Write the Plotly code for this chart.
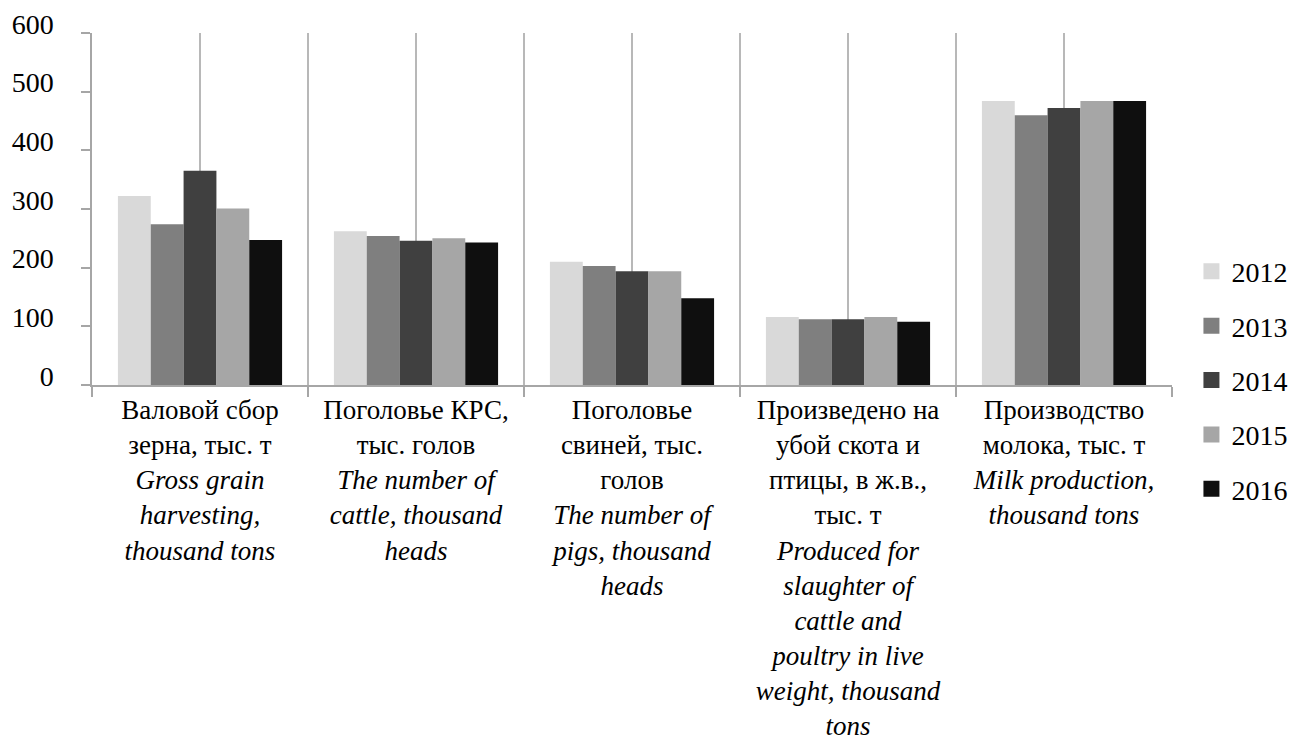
import plotly.graph_objects as go

categories_ru = [
    "Валовой сбор<br>зерна, тыс. т",
    "Поголовье КРС,<br>тыс. голов",
    "Поголовье<br>свиней, тыс.<br>голов",
    "Произведено на<br>убой скота и<br>птицы, в ж.в.,<br>тыс. т",
    "Производство<br>молока, тыс. т",
]
categories_en = [
    ["Gross grain", "harvesting,", "thousand tons"],
    ["The number of", "cattle, thousand", "heads"],
    ["The number of", "pigs, thousand", "heads"],
    ["Produced for", "slaughter of", "cattle and", "poultry in live", "weight, thousand", "tons"],
    ["Milk production,", "thousand tons"],
]
category_keys = ["grain", "cattle", "pigs", "slaughter", "milk"]

years = ["2012", "2013", "2014", "2015", "2016"]
v2012 = [322, 262, 210, 116, 484]
v2013 = [274, 254, 203, 112, 460]
v2014 = [365, 246, 194, 112, 472]
v2015 = [301, 250, 194, 116, 484]
v2016 = [247, 243, 148, 108, 484]
values = [v2012, v2013, v2014, v2015, v2016]
colors = ["#d9d9d9", "#7f7f7f", "#404040", "#a6a6a6", "#0f0f0f"]

ticktext = [
    ru + "<br>" + "<br>".join("<i>" + s + "</i>" for s in en)
    for ru, en in zip(categories_ru, categories_en)
]

FONT = "Liberation Serif"

fig = go.Figure()
for yr, vals, col in zip(years, values, colors):
    fig.add_trace(go.Bar(
        x=category_keys, y=vals, name=yr, marker_color=col,
        marker_line_width=0, showlegend=False,
    ))
for yr, col in zip(years, colors):
    fig.add_trace(go.Scatter(
        x=[None], y=[None], mode="markers", name=yr, legendgroup=yr,
        marker=dict(symbol="square", size=17, color=col), showlegend=True,
    ))
fig.add_trace(go.Scatter(x=[None], y=[None], xaxis="x2", yaxis="y",
                         showlegend=False, hoverinfo="skip"))

fig.update_layout(
    width=1299, height=747,
    margin=dict(l=84, r=135, t=25, b=370, autoexpand=False),
    paper_bgcolor="white", plot_bgcolor="white",
    font=dict(family=FONT, color="black"),
    barmode="group", bargap=0.24, bargroupgap=0,
    xaxis=dict(
        type="category", categoryorder="array", categoryarray=category_keys,
        tickmode="array", tickvals=category_keys, ticktext=ticktext,
        tickson="boundaries", ticks="outside", ticklen=10, tickcolor="#a6a6a6", tickwidth=1.5,
        showgrid=True, gridcolor="#b8b8b8", gridwidth=1.5,
        showline=True, linecolor="#a6a6a6", linewidth=1.5,
        tickfont=dict(size=27, family=FONT, color="black"), tickangle=0,
        automargin=False,
    ),
    xaxis2=dict(
        overlaying="x", range=[-0.5, 4.5], tickmode="array", tickvals=[0, 1, 2, 3, 4],
        showgrid=True, gridcolor="#b8b8b8", gridwidth=1.5,
        showticklabels=False, ticks="", showline=False, zeroline=False,
    ),
    yaxis=dict(
        range=[0, 600], dtick=100, tick0=0,
        showgrid=False, zeroline=False,
        showline=True, linecolor="#a6a6a6", linewidth=1.5,
        ticks="outside", ticklen=9, tickcolor="#a6a6a6", tickwidth=1.5,
        tickfont=dict(size=28, family=FONT, color="black"),
        ticklabelstandoff=22, ticklabelshift=-9, automargin=False,
    ),
    legend=dict(
        x=1.018, xanchor="left", y=0.014, yanchor="middle",
        font=dict(size=28, family=FONT, color="black"),
        tracegroupgap=15, itemwidth=30, bgcolor="rgba(0,0,0,0)",
    ),
)

fig.write_html("out.html")
